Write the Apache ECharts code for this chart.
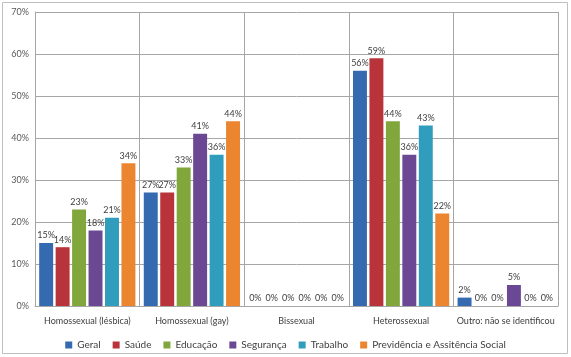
<!DOCTYPE html>
<html><head><meta charset="utf-8">
<script src="https://cdn.jsdelivr.net/npm/echarts@6/dist/echarts.min.js"></script>
<style>html,body{margin:0;padding:0;background:#fff}#c{width:571px;height:357px}</style>
</head><body><div id="c"></div>
<script>
const categories = ['Homossexual (lésbica)', 'Homossexual (gay)', 'Bissexual', 'Heterossexual', 'Outro: não se identificou'];
const seriesNames = ['Geral', 'Saúde', 'Educação', 'Segurança', 'Trabalho', 'Previdência e Assitência Social'];
const geral = [15, 27, 0, 56, 2];
const saude = [14, 27, 0, 59, 0];
const educacao = [23, 33, 0, 44, 0];
const seguranca = [18, 41, 0, 36, 5];
const trabalho = [21, 36, 0, 43, 0];
const previdencia = [34, 44, 0, 22, 0];
const yTicks = [0, 10, 20, 30, 40, 50, 60, 70];

const values = [geral, saude, educacao, seguranca, trabalho, previdencia];
const colors = ['#3569B0', '#B9343A', '#81A63B', '#6A4894', '#2F9DBB', '#EB8530'];
const font = 'Lato, "Open Sans", sans-serif';

const chart = echarts.init(document.getElementById('c'), null, {renderer: 'canvas'});
chart.setOption({
  animation: false,
  color: colors,
  textStyle: {fontFamily: font},
  graphic: [{type: 'rect', shape: {x: 2.5, y: 2.5, width: 565, height: 351}, style: {fill: 'none', stroke: '#BFBFBF', lineWidth: 1}, silent: true}],
  grid: {left: 35, right: 13, top: 12, bottom: 51, containLabel: false},
  legend: {
    top: 335, left: 'center', itemWidth: 7, itemHeight: 7, itemGap: 12,
    icon: 'rect', textStyle: {fontSize: 10, color: '#404040', fontFamily: font},
    data: seriesNames
  },
  xAxis: {
    type: 'category', data: categories, boundaryGap: true,
    axisLine: {show: true, lineStyle: {color: '#A6A6A6'}},
    axisTick: {show: false},
    splitLine: {show: true, lineStyle: {color: '#A6A6A6', width: 1}},
    axisLabel: {fontSize: 9, color: '#404040', margin: 11, interval: 0}
  },
  yAxis: {
    type: 'value', min: yTicks[0], max: yTicks[yTicks.length - 1], interval: 10,
    axisLine: {show: true, lineStyle: {color: '#A6A6A6'}},
    axisTick: {show: false},
    splitLine: {show: true, lineStyle: {color: '#A6A6A6', width: 1}},
    axisLabel: {fontSize: 9, color: '#595959', margin: 6, formatter: v => v + '%'}
  },
  series: seriesNames.map((n, i) => ({
    name: n, type: 'bar', data: values[i],
    barCategoryGap: '8%', barGap: '18%',
    itemStyle: {color: colors[i]},
    label: {show: true, position: 'top', distance: 3, fontSize: 9, color: '#404040', formatter: p => p.value + '%'}
  }))
});
</script></body></html>
